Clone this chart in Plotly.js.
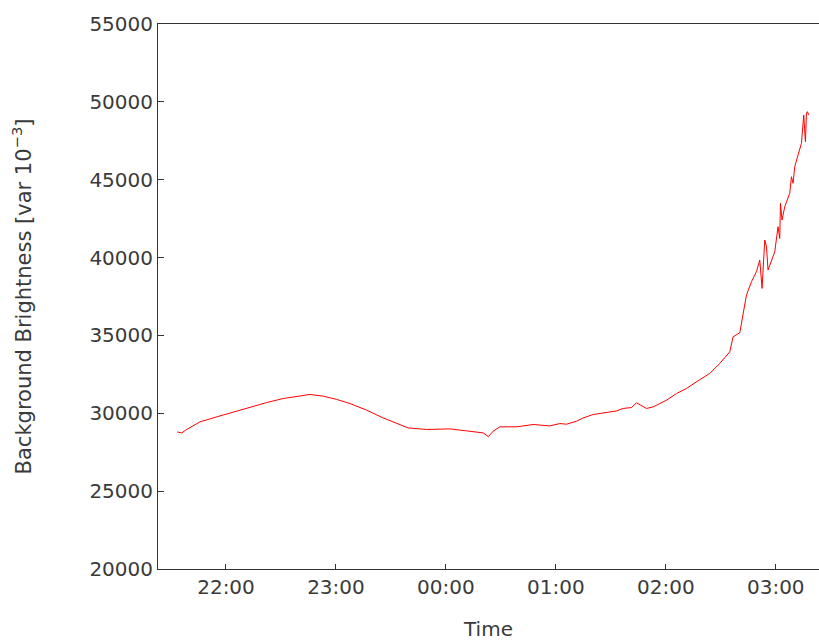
<!DOCTYPE html>
<html>
<head>
<meta charset="utf-8">
<script src="https://cdn.plot.ly/plotly-3.0.1.min.js"></script>
<style>
  html, body { margin: 0; padding: 0; background: #fff; }
  #chart { width: 819px; height: 641px; }
</style>
</head>
<body>
<div id="chart"></div>
<script>
// Clock times of the samples (evening of day 1 through early morning of day 2)
const times = [
  "21:33:26", "21:35:50", "21:38:34", "21:45:49", "21:54:56", "22:03:59",
  "22:13:05", "22:22:12", "22:31:15", "22:40:22", "22:45:49", "22:53:04",
  "23:00:23", "23:07:38", "23:16:45", "23:25:48", "23:33:07", "23:39:26",
  "23:49:28", "00:02:11", "00:11:17", "00:20:21", "00:23:11", "00:25:48",
  "00:29:27", "00:38:34", "00:47:37", "00:56:44", "01:02:11", "01:05:50",
  "01:11:17", "01:14:53", "01:20:21", "01:25:48", "01:33:07", "01:36:43",
  "01:41:17", "01:44:01", "01:49:28", "01:53:04", "02:00:23", "02:05:50",
  "02:11:17", "02:18:10", "02:24:00", "02:29:27", "02:34:55", "02:36:43",
  "02:40:22", "02:44:01", "02:46:45", "02:49:28", "02:51:16", "02:52:32",
  "02:54:00", "02:54:56", "02:55:48", "02:59:27", "03:01:15", "03:02:11",
  "03:02:34", "03:03:26", "03:04:55", "03:07:38", "03:08:34", "03:09:26",
  "03:10:22", "03:12:10", "03:14:01", "03:15:16", "03:16:12", "03:16:45",
  "03:17:17", "03:18:00"
];

// Background brightness in units of var 10^-3
const brightness = [
  28800, 28740, 28960, 29450, 29770, 30090,
  30410, 30690, 30950, 31120, 31210, 31100,
  30890, 30630, 30200, 29700, 29350, 29060,
  28960, 29000, 28870, 28740, 28500, 28850,
  29130, 29130, 29280, 29190, 29340, 29300,
  29490, 29700, 29920, 30030, 30150, 30310,
  30370, 30670, 30310, 30410, 30840, 31270,
  31590, 32130, 32560, 33200, 33950, 34910,
  35170, 37590, 38450, 39090, 39840, 38020,
  41130, 40700, 39200, 40370, 41980, 41230,
  43480, 42410, 43270, 44130, 45190, 44770,
  45840, 46590, 47340, 49160, 47440, 49270,
  49370, 49160
];

const yTicks = [20000, 25000, 30000, 35000, 40000, 45000, 50000, 55000];

// Evening times belong to the first day, post-midnight times to the next
const stamps = times.map(t => {
  const h = parseInt(t.slice(0, 2), 10);
  return (h >= 12 ? "2000-01-01 " : "2000-01-02 ") + t;
});

const font = { family: "DejaVu Sans, sans-serif", size: 20, color: "#3a3a3a" };
const yTitleFont = { family: "DejaVu Sans, sans-serif", size: 21, color: "#3a3a3a" };

const trace = {
  type: "scatter",
  mode: "lines",
  x: stamps,
  y: brightness,
  line: { color: "#ff0000", width: 1 },
  hoverinfo: "skip"
};

const layout = {
  width: 819,
  height: 641,
  margin: { l: 158, r: 0, t: 24, b: 72 },
  paper_bgcolor: "#ffffff",
  plot_bgcolor: "#ffffff",
  showlegend: false,
  font: font,
  xaxis: {
    type: "date",
    range: ["2000-01-01 21:22:54", "2000-01-02 03:23:36"],
    tick0: "2000-01-01 22:00:00",
    dtick: 3600000,
    tickformat: "%H:%M",
    ticks: "inside",
    ticklen: 5,
    tickcolor: "#333333",
    showline: true,
    linecolor: "#333333",
    linewidth: 1,
    mirror: true,
    showgrid: false,
    zeroline: false,
    tickfont: font,
    title: { text: "Time", font: font, standoff: 27 }
  },
  yaxis: {
    range: [20000, 55000],
    tickvals: yTicks,
    ticktext: yTicks.map(String),
    ticks: "inside",
    ticklen: 6,
    tickcolor: "#333333",
    showline: true,
    linecolor: "#333333",
    linewidth: 1,
    showgrid: false,
    zeroline: false,
    tickfont: font,
    title: { text: "Background Brightness [var 10<sup>−3</sup>]", font: yTitleFont, standoff: 52 }
  }
};

Plotly.newPlot("chart", [trace], layout, { displayModeBar: false, staticPlot: true });
</script>
</body>
</html>
